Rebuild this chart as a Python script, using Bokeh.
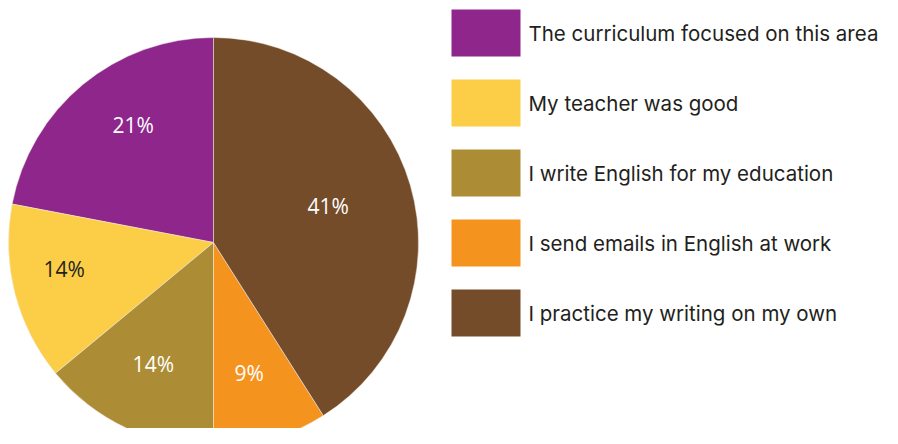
import numpy as np
from bokeh.plotting import figure
from bokeh.models import ColumnDataSource, Range1d
from bokeh.core.properties import value
from bokeh.embed import file_html
from bokeh.resources import INLINE

# ---- data (legend order) ----
categories = [
    "The curriculum focused on this area",
    "My teacher was good",
    "I write English for my education",
    "I send emails in English at work",
    "I practice my writing on my own",
]
values = [21, 14, 14, 9, 41]          # percent
value_labels = ["21%", "14%", "14%", "9%", "41%"]
colors = ["#8E268C", "#FCCD47", "#AC8C35", "#F5931F", "#744C2A"]
label_colors = ["#FFFFFF", "#231F20", "#FFFFFF", "#FFFFFF", "#FFFFFF"]
# label placement style: fraction of radius and angular nudge (degrees)
label_radius_frac = [0.69, 0.74, 0.665, 0.665, 0.586]
label_angle_nudge = [-5, -4, -1, -1, 1]

# ---- geometry (pixel-like units, y up) ----
W, H = 882, 428
cx, cy, R = 213, 202, 205

vals = np.array(values, dtype=float)
deg = vals / 100.0 * 360.0
order = list(range(len(values)))[::-1]   # clockwise from 12 o'clock
start = np.zeros(len(values))
end = np.zeros(len(values))
cum = 0.0
for k, i in enumerate(order):
    end[i] = 90.0 - cum
    cum += deg[i]
    start[i] = 90.0 - cum
    if k == len(order) - 1:           # last slice closes the circle (rounding)
        start[i] = 90.0 - 360.0
mid = np.radians((start + end) / 2.0 + np.array(label_angle_nudge))
lx = cx + np.array(label_radius_frac) * R * np.cos(mid)
ly = cy + np.array(label_radius_frac) * R * np.sin(mid)

src = ColumnDataSource(dict(
    cat=categories, val=values, color=colors,
    start=np.radians(start), end=np.radians(end),
    lx=lx, ly=ly, lab=value_labels, lcol=label_colors,
))

p = figure(width=W, height=H, output_backend="svg", toolbar_location=None,
           x_range=Range1d(0, W), y_range=Range1d(444 - H, 444),
           min_border=0, outline_line_color=None)
p.axis.visible = False
p.grid.visible = False
p.background_fill_color = "white"

p.wedge(x=cx, y=cy, radius=R, start_angle="start", end_angle="end",
        fill_color="color", line_color="#F4EEE8", line_width=0.5, source=src)

p.text(x="lx", y="ly", text="lab", text_color="lcol", text_align="center",
       text_baseline="middle", text_font=value("Open Sans"),
       text_font_size="21px", y_offset=-1, source=src)

# ---- legend ----
n = len(categories)
leg_y = [444 - (32.5 + 70 * k) for k in range(n)]
leg_src = ColumnDataSource(dict(y=leg_y, color=colors, cat=categories))
p.rect(x=485.5, y="y", width=69, height=47, fill_color="color",
       line_color=None, source=leg_src)
p.text(x=528, y="y", text="cat", text_color="#231F20", text_align="left",
       text_baseline="middle", text_font=value("Inter"),
       text_font_size="20.5px", source=leg_src)

open("out.html", "w").write(file_html(p, INLINE))
